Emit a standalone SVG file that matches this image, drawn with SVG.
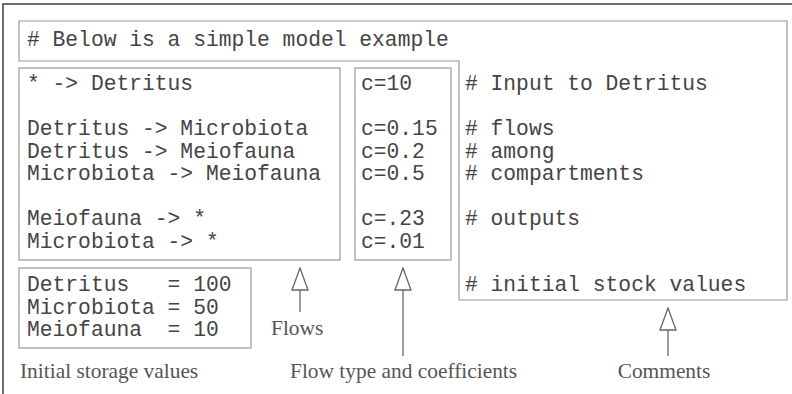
<svg xmlns="http://www.w3.org/2000/svg" width="792" height="394" viewBox="0 0 792 394">
<style>
.frame{fill:none;stroke:#4a4a4a;stroke-width:1.6}
.box{fill:none;stroke:#9a9a9a;stroke-width:1.2}
.mono{font-family:"Liberation Mono","Courier New",monospace;font-size:21.3px;fill:#444}
.serif{font-family:"Liberation Serif","Times New Roman",serif;font-size:21.4px;fill:#555}
.conn{stroke:#666;stroke-width:1.3;fill:none}
</style>
<defs>
<marker id="hollow" markerUnits="userSpaceOnUse" viewBox="0 0 24 18" markerWidth="24" markerHeight="18" refX="23" refY="9" orient="auto">
<path d="M1,1 L23,9 L1,17 Z" fill="#fff" stroke="#666" stroke-width="1.3"/>
</marker>
</defs>
<rect width="792" height="394" fill="#fff"/>
<rect class="frame" x="3" y="4" width="800" height="400"/>

<g id="comments">
<path class="box" d="M19,21 H787 V300 H459 V61 H19 Z"/>
<text class="mono" x="27" y="46"># Below is a simple model example</text>
<text class="mono" x="465" y="90"># Input to Detritus</text>
<text class="mono" x="465" y="135"># flows</text>
<text class="mono" x="465" y="157.5"># among</text>
<text class="mono" x="465" y="180"># compartments</text>
<text class="mono" x="465" y="225"># outputs</text>
<text class="mono" x="465" y="291"># initial stock values</text>
</g>

<g id="flows">
<rect class="box" x="19" y="68" width="321" height="192"/>
<text class="mono" x="27" y="90">* -&gt; Detritus</text>
<text class="mono" x="27" y="135">Detritus -&gt; Microbiota</text>
<text class="mono" x="27" y="157.5">Detritus -&gt; Meiofauna</text>
<text class="mono" x="27" y="180">Microbiota -&gt; Meiofauna</text>
<text class="mono" x="27" y="225">Meiofauna -&gt; *</text>
<text class="mono" x="27" y="247.5">Microbiota -&gt; *</text>
</g>

<g id="coefficients">
<rect class="box" x="355" y="68" width="96" height="192"/>
<text class="mono" x="361" y="90">c=10</text>
<text class="mono" x="361" y="135">c=0.15</text>
<text class="mono" x="361" y="157.5">c=0.2</text>
<text class="mono" x="361" y="180">c=0.5</text>
<text class="mono" x="361" y="225">c=.23</text>
<text class="mono" x="361" y="247.5">c=.01</text>
</g>

<g id="initial">
<rect class="box" x="19" y="268" width="232" height="80"/>
<text class="mono" x="27" y="291" xml:space="preserve">Detritus   = 100</text>
<text class="mono" x="27" y="313.5" xml:space="preserve">Microbiota = 50</text>
<text class="mono" x="27" y="336" xml:space="preserve">Meiofauna  = 10</text>
</g>

<g id="label-flows"><text class="serif" x="271" y="335">Flows</text></g>
<g id="label-initial"><text class="serif" x="20" y="378">Initial storage values</text></g>
<g id="label-coef"><text class="serif" x="290" y="378">Flow type and coefficients</text></g>
<g id="label-comments"><text class="serif" x="664" y="378" text-anchor="middle">Comments</text></g>

<g id="connectors">
<line class="conn" x1="300" y1="312" x2="300" y2="268" marker-end="url(#hollow)"/>
<line class="conn" x1="403" y1="356" x2="403" y2="268" marker-end="url(#hollow)"/>
<line class="conn" x1="668" y1="356" x2="668" y2="308" marker-end="url(#hollow)"/>
</g>
</svg>
